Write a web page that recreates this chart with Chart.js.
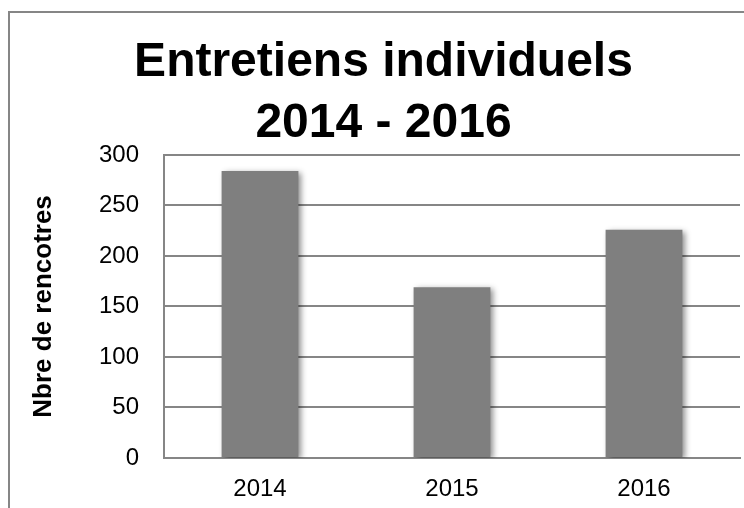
<!DOCTYPE html>
<html>
<head>
<meta charset="utf-8">
<script src="https://cdn.jsdelivr.net/npm/chart.js@4"></script>
<style>
  html, body { margin: 0; padding: 0; background: #fff; }
  canvas { display: block; }
</style>
</head>
<body>
<canvas id="chart" width="744" height="508"></canvas>
<script>
// data
const years = ['2014', '2015', '2016'];
const meetings = [284, 169, 226];
const yTicks = [0, 50, 100, 150, 200, 250, 300];

const titleLines = ['Entretiens individuels', '2014 - 2016'];
const yAxisTitle = 'Nbre de rencotres';

const gridGrey = '#868686';

// grey frame round the whole chart (runs off the right and bottom edges)
const framePlugin = {
    id: 'frame',
    beforeDraw(chart) {
        const ctx = chart.ctx;
        ctx.save();
        ctx.fillStyle = '#ffffff';
        ctx.fillRect(0, 0, chart.width, chart.height);
        ctx.strokeStyle = gridGrey;
        ctx.lineWidth = 2;
        ctx.strokeRect(9, 12, chart.width + 50, chart.height + 50);
        ctx.restore();
    }
};

// soft shadow under the bars
const shadowPlugin = {
    id: 'barShadow',
    beforeDatasetsDraw(chart) {
        const ctx = chart.ctx;
        ctx.save();
        ctx.shadowColor = 'rgba(0, 0, 0, 0.45)';
        ctx.shadowBlur = 6;
        ctx.shadowOffsetX = 3;
        ctx.shadowOffsetY = 2;
    },
    afterDatasetsDraw(chart) {
        chart.ctx.restore();
    }
};

new Chart(document.getElementById('chart').getContext('2d'), {
    type: 'bar',
    data: {
        labels: years,
        datasets: [{
            data: meetings,
            backgroundColor: '#7f7f7f',
            borderWidth: 0,
            barPercentage: 0.4,
            categoryPercentage: 1
        }]
    },
    options: {
        responsive: false,
        animation: false,
        layout: { padding: { left: 27, right: 4, top: 0, bottom: 4 } },
        plugins: {
            legend: { display: false },
            tooltip: { enabled: false },
            title: {
                display: true,
                text: titleLines,
                color: '#000',
                font: { family: 'Liberation Sans, Arial, sans-serif', size: 48, weight: 'bold', lineHeight: 1.28 },
                padding: { top: 32, bottom: 0 }
            }
        },
        scales: {
            x: {
                afterFit(scale) {
                    scale.height = 46;
                },
                grid: { display: false, drawTicks: false },
                border: { display: true, color: gridGrey, width: 2 },
                ticks: {
                    color: '#000',
                    padding: 17,
                    font: { family: 'Liberation Sans, Arial, sans-serif', size: 24 }
                }
            },
            y: {
                min: 0,
                max: 300,
                afterBuildTicks(scale) {
                    scale.ticks = yTicks.map(v => ({ value: v }));
                },
                afterFit(scale) {
                    scale.width = 137;
                },
                grid: { color: gridGrey, lineWidth: 2, drawTicks: false },
                border: { display: true, color: gridGrey, width: 2 },
                ticks: {
                    color: '#000',
                    padding: 25,
                    font: { family: 'Liberation Sans, Arial, sans-serif', size: 24 }
                },
                title: {
                    display: true,
                    text: yAxisTitle,
                    color: '#000',
                    padding: { top: 1, bottom: 0 },
                    font: { family: 'Liberation Sans, Arial, sans-serif', size: 26, weight: 'bold', lineHeight: 1.2 }
                }
            }
        }
    },
    plugins: [framePlugin, shadowPlugin]
});
</script>
</body>
</html>
